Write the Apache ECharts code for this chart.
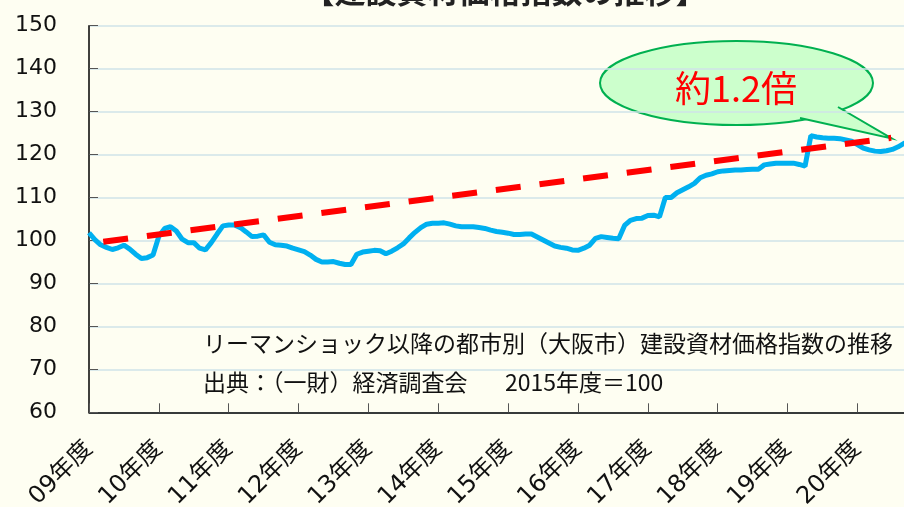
<!DOCTYPE html>
<html lang="ja">
<head>
<meta charset="UTF-8">
<title>建設資材価格指数の推移</title>
<script src="https://cdn.jsdelivr.net/npm/echarts@6/dist/echarts.min.js"></script>
<style>
  html, body { margin: 0; padding: 0; background: #fefef2; }
  #chart { width: 904px; height: 507px; }
</style>
</head>
<body>
<div id="chart"></div>
<script>
// 年度ラベル（各年度4月の位置に表示）
var yearLabels = ['09年度', '10年度', '11年度', '12年度', '13年度', '14年度',
                  '15年度', '16年度', '17年度', '18年度', '19年度', '20年度'];
// 月次の建設資材価格指数（大阪市, 2015年度=100）。09年4月から順に
var osakaIndex = [
  101.8, 100.2, 99.0, 98.4, 97.9, 98.3, 98.9, 98.0, 96.8, 95.8, 96.0, 96.6,
  101.0, 102.8, 103.2, 102.2, 100.3, 99.5, 99.5, 98.2, 97.8, 99.5, 101.5, 103.4,
  103.6, 103.6, 103.0, 102.0, 100.9, 101.0, 101.3, 99.6, 99.0, 98.9, 98.7, 98.2,
  97.8, 97.4, 96.6, 95.6, 95.0, 95.0, 95.1, 94.7, 94.4, 94.4, 96.8, 97.3,
  97.5, 97.7, 97.6, 96.9, 97.5, 98.3, 99.2, 100.6, 101.9, 103.0, 103.8, 104.0,
  104.0, 104.1, 103.8, 103.4, 103.2, 103.2, 103.2, 103.0, 102.8, 102.4, 102.1, 101.9,
  101.7, 101.4, 101.4, 101.5, 101.5, 100.8, 100.1, 99.4, 98.7, 98.4, 98.2, 97.8,
  97.7, 98.2, 98.9, 100.5, 100.9, 100.7, 100.5, 100.4, 103.5, 104.7, 105.1, 105.2,
  105.8, 105.9, 105.5, 110.0, 110.0, 111.1, 111.8, 112.5, 113.3, 114.6, 115.2, 115.5,
  116.0, 116.2, 116.3, 116.4, 116.4, 116.5, 116.6, 116.6, 117.6, 117.8, 118.0, 118.0,
  118.0, 118.0, 117.7, 117.3, 124.4, 124.1, 123.9, 123.8, 123.8, 123.7, 123.4, 123.1,
  122.3, 121.5, 121.1, 120.8, 120.7, 120.9, 121.2, 121.8, 122.6, 123.2
];
// 傾向線（始点・終点の月位置と指数）
var trendMonths = [2.45, 137.8];
var trendValues = [99.7, 123.9];

var chart = echarts.init(document.getElementById('chart'));

var lineData = osakaIndex.map(function (v, i) { return [i, v]; });
var trendData = trendMonths.map(function (m, i) { return [m, trendValues[i]]; });
var yearStarts = yearLabels.map(function (l, i) { return i * 12; });

var cjk = '"Noto Sans CJK JP", sans-serif';

var option = {
  backgroundColor: '#fefef2',
  animation: false,
  grid: { left: 89, top: 25.7, bottom: 94.7, right: 0, containLabel: false, outerBoundsMode: 'none' },
  xAxis: {
    type: 'value',
    min: 0,
    max: 140,
    interval: 12,
    axisLine: { show: true, lineStyle: { color: '#000', width: 1.5 } },
    axisTick: { show: true, inside: true, length: 9, customValues: yearStarts, lineStyle: { color: '#555' } },
    splitLine: { show: false },
    axisLabel: {
      rotate: 45,
      margin: 33,
      fontSize: 24,
      color: '#111',
      customValues: yearStarts,
      fontFamily: '"DejaVu Sans", "Noto Sans CJK JP", sans-serif',
      formatter: function (v) { return yearLabels[v / 12] || ''; }
    }
  },
  yAxis: {
    type: 'value',
    min: 60,
    max: 150,
    interval: 10,
    axisLine: { show: true, lineStyle: { color: '#000', width: 1.5 } },
    axisTick: { show: true, inside: true, length: 9, lineStyle: { color: '#555' } },
    splitLine: { show: true, lineStyle: { color: '#cfe3e8', width: 1.5 } },
    axisLabel: {
      margin: 32,
      fontSize: 22,
      color: '#111',
      fontFamily: '"DejaVu Sans", sans-serif'
    }
  },
  series: [
    {
      name: '建設資材価格指数',
      type: 'line',
      data: lineData,
      showSymbol: false,
      lineStyle: { color: '#00b0f0', width: 5 },
      z: 2
    },
    {
      name: '傾向',
      type: 'line',
      data: trendData,
      showSymbol: false,
      lineStyle: { color: '#ff0000', width: 6, type: [25, 19], cap: 'butt' },
      z: 3
    }
  ],
  graphic: [
    {
      type: 'text',
      z: 10,
      style: {
        x: 505, y: -9,
        text: '【建設資材価格指数の推移】',
        fontSize: 31, fontWeight: 'bold', fill: '#222',
        fontFamily: cjk,
        textAlign: 'center', textVerticalAlign: 'middle'
      }
    },
    {
      type: 'group',
      z: 20,
      children: [
        {
          type: 'ellipse',
          shape: { cx: 736.5, cy: 83, rx: 136.5, ry: 42 },
          style: { fill: '#ccffcc', stroke: '#00b050', lineWidth: 2 }
        },
        {
          type: 'polygon',
          shape: { points: [[800, 118], [891.7, 138.5], [838, 107], [818, 100]] },
          style: { fill: '#ccffcc', stroke: null }
        },
        {
          type: 'polyline',
          shape: { points: [[800, 118], [891.7, 138.5], [838, 107]] },
          style: { fill: null, stroke: '#00b050', lineWidth: 2 }
        },
        {
          type: 'text',
          style: {
            x: 736, y: 88,
            text: '約1.2倍',
            fontSize: 36, fill: '#ff0000',
            fontFamily: cjk,
            textAlign: 'center', textVerticalAlign: 'middle'
          }
        }
      ]
    },
    {
      type: 'text',
      z: 10,
      style: {
        x: 203, y: 343,
        text: 'リーマンショック以降の都市別（大阪市）建設資材価格指数の推移',
        fontSize: 23, fill: '#111',
        fontFamily: cjk,
        textVerticalAlign: 'middle'
      }
    },
    {
      type: 'text',
      z: 10,
      style: {
        x: 203, y: 382,
        text: '出典：（一財）経済調査会',
        fontSize: 23, fill: '#111',
        fontFamily: cjk,
        textVerticalAlign: 'middle'
      }
    },
    {
      type: 'text',
      z: 10,
      style: {
        x: 505, y: 382,
        text: '2015年度＝100',
        fontSize: 23, fill: '#111',
        fontFamily: cjk,
        textVerticalAlign: 'middle'
      }
    }
  ]
};

chart.setOption(option);
</script>
</body>
</html>
